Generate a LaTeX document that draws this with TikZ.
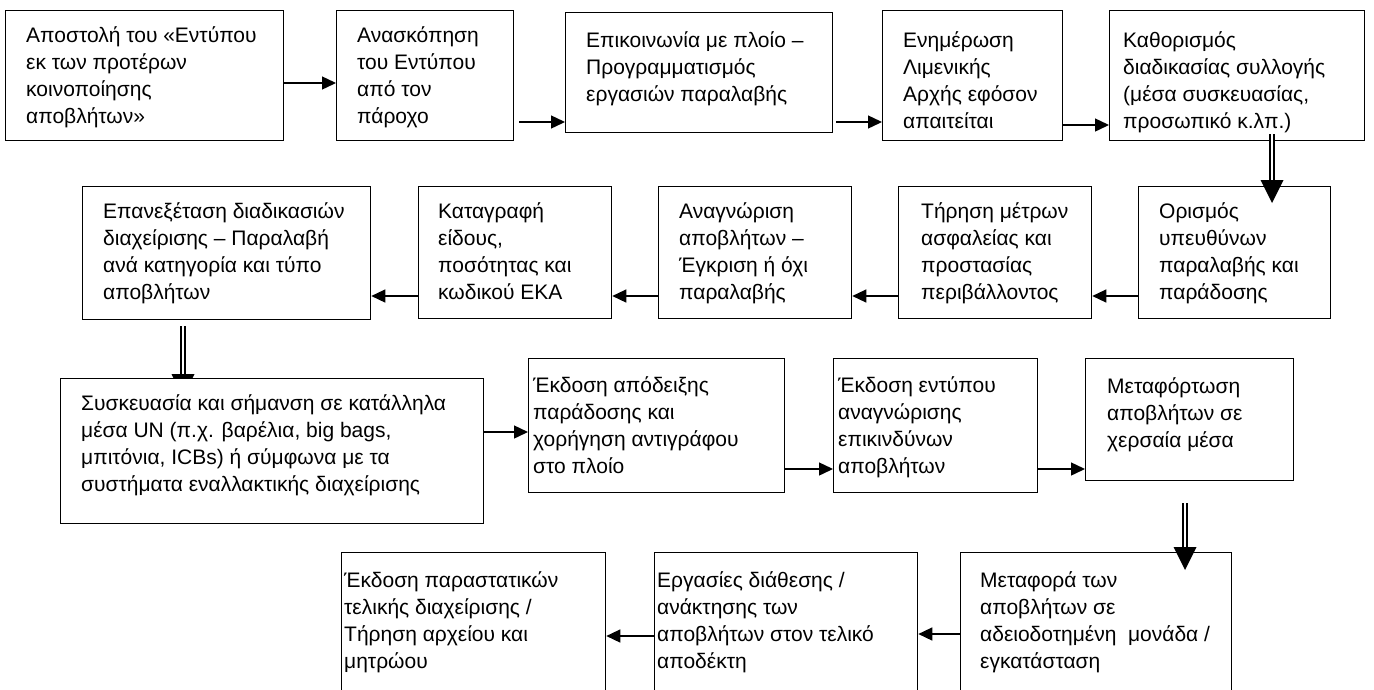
\documentclass[tikz,border=0pt]{standalone}
\usepackage{fontspec}
\setmainfont{Liberation Sans}
\usetikzlibrary{arrows.meta,calc}
\pgfdeclarelayer{bg}
\pgfsetlayers{bg,main}
\newcommand{\mystrut}{\rule{0pt}{16pt}}
\tikzset{
  box/.style={draw, line width=1.3pt, fill=white, anchor=north west, inner sep=0pt},
  txt/.style={anchor=north west, inner sep=0pt, align=left, font=\fontsize{21pt}{27pt}\selectfont},
  arr/.style={-{Triangle[length=14pt,width=13pt]}, line width=1.4pt},
  dbl/.style={draw, line width=2pt, double distance=2.8pt, double=white},
  headfill/.style={fill=black}
}
\begin{document}
\begin{tikzpicture}[x=1pt,y=-1pt]
\useasboundingbox (0,0) rectangle (1374,689);
\clip (0,0) rectangle (1374,689);
% row 1
\node[box, minimum width=278pt, minimum height=130pt] (b1) at (5,10) {};
\node[box, minimum width=177pt, minimum height=130pt] (b2) at (336,10) {};
\node[box, minimum width=267pt, minimum height=120pt] (b3) at (565,12) {};
\node[box, minimum width=180pt, minimum height=130pt] (b4) at (882,10) {};
\node[box, minimum width=255pt, minimum height=130pt] (b5) at (1109,10) {};
% row 2
\node[box, minimum width=192pt, minimum height=132pt] (b6) at (1138,186) {};
\node[box, minimum width=193pt, minimum height=132pt] (b7) at (898,186) {};
\node[box, minimum width=193pt, minimum height=132pt] (b8) at (658,186) {};
\node[box, minimum width=193pt, minimum height=132pt] (b9) at (418,186) {};
\node[box, minimum width=288pt, minimum height=133pt] (b10) at (82,186) {};
% row 3
\node[box, minimum width=423pt, minimum height=145pt] (b11) at (60,378) {};
\node[box, minimum width=256pt, minimum height=134pt] (b12) at (528,358) {};
\node[box, minimum width=204pt, minimum height=134pt] (b13) at (833,358) {};
\node[box, minimum width=208pt, minimum height=122pt] (b14) at (1085,358) {};
% row 4
\node[box, minimum width=271pt, minimum height=160pt] (b15) at (960,552) {};
\node[box, minimum width=263pt, minimum height=160pt] (b16) at (654,552) {};
\node[box, minimum width=264pt, minimum height=160pt] (b17) at (341,552) {};

% texts
\node[txt] (t1) at ($(b1.north west)+(21,16)$) {\mystrut Αποστολή του «Εντύπου\\εκ των προτέρων\\κοινοποίησης\\αποβλήτων»};
\node[txt] (t2) at ($(b2.north west)+(21,16)$) {\mystrut Ανασκόπηση\\του Εντύπου\\από τον\\πάροχο};
\node[txt] (t3) at ($(b3.north west)+(21,19)$) {\mystrut Επικοινωνία με πλοίο –\\Προγραμματισμός\\εργασιών παραλαβής};
\node[txt] (t4) at ($(b4.north west)+(21,21)$) {\mystrut Ενημέρωση\\Λιμενικής\\Αρχής εφόσον\\απαιτείται};
\node[txt] (t5) at ($(b5.north west)+(14,21)$) {\mystrut Καθορισμός\\διαδικασίας συλλογής\\(μέσα συσκευασίας,\\προσωπικό κ.λπ.)};
\node[txt] (t6) at ($(b6.north west)+(21,16)$) {\mystrut Ορισμός\\υπευθύνων\\παραλαβής και\\παράδοσης};
\node[txt] (t7) at ($(b7.north west)+(23,16)$) {\mystrut Τήρηση μέτρων\\ασφαλείας και\\προστασίας\\περιβάλλοντος};
\node[txt] (t8) at ($(b8.north west)+(21,16)$) {\mystrut Αναγνώριση\\αποβλήτων –\\Έγκριση ή όχι\\παραλαβής};
\node[txt] (t9) at ($(b9.north west)+(20,16)$) {\mystrut Καταγραφή\\είδους,\\ποσότητας και\\κωδικού ΕΚΑ};
\node[txt] (t10) at ($(b10.north west)+(21,16)$) {\mystrut Επανεξέταση διαδικασιών\\διαχείρισης – Παραλαβή\\ανά κατηγορία και τύπο\\αποβλήτων};
\node[txt] (t11) at ($(b11.north west)+(21,16)$) {\mystrut Συσκευασία και σήμανση σε κατάλληλα\\μέσα UN (π.χ. βαρέλια, big bags,\\μπιτόνια, ICBs) ή σύμφωνα με τα\\συστήματα εναλλακτικής διαχείρισης};
\node[txt] (t12) at ($(b12.north west)+(5,18)$) {\mystrut Έκδοση απόδειξης\\παράδοσης και\\χορήγηση αντιγράφου\\στο πλοίο};
\node[txt] (t13) at ($(b13.north west)+(5,18)$) {\mystrut Έκδοση εντύπου\\αναγνώρισης\\επικινδύνων\\αποβλήτων};
\node[txt] (t14) at ($(b14.north west)+(22,19)$) {\mystrut Μεταφόρτωση\\αποβλήτων σε\\χερσαία μέσα};
\node[txt] (t15) at ($(b15.north west)+(20,19)$) {\mystrut Μεταφορά των\\αποβλήτων σε\\αδειοδοτημένη\ \ μονάδα /\\εγκατάσταση};
\node[txt] (t16) at ($(b16.north west)+(3,19)$) {\mystrut Εργασίες διάθεσης /\\ανάκτησης των\\αποβλήτων στον τελικό\\αποδέκτη};
\node[txt] (t17) at ($(b17.north west)+(3,19)$) {\mystrut Έκδοση παραστατικών\\τελικής διαχείρισης /\\Τήρηση αρχείου και\\μητρώου};

% single arrows
\draw[arr] (b1.east |- 0,83) -- (b2.west |- 0,83);
\draw[arr] ($(b2.east |- 0,122)+(5,0)$) -- (b3.west |- 0,122);
\draw[arr] ($(b3.east |- 0,122)+(3,0)$) -- (b4.west |- 0,122);
\draw[arr] (b4.east |- 0,125) -- (b5.west |- 0,125);
\draw[arr] (b6.west |- 0,296) -- (b7.east |- 0,296);
\draw[arr] (b7.west |- 0,296) -- (b8.east |- 0,296);
\draw[arr] (b8.west |- 0,296) -- (b9.east |- 0,296);
\draw[arr] (b9.west |- 0,296) -- (b10.east |- 0,296);
\draw[arr] (b11.east |- 0,432) -- (b12.west |- 0,432);
\draw[arr] (b12.east |- 0,469) -- (b13.west |- 0,469);
\draw[arr] (b13.east |- 0,469) -- (b14.west |- 0,469);
\draw[arr] (b15.west |- 0,634) -- (b16.east |- 0,634);
\draw[arr] (b16.west |- 0,636) -- (b17.east |- 0,636);

% double arrows
\coordinate (s56) at ($(b5.south -| 1272,0)+(0,-7)$);
\coordinate (h56) at ($(b6.north -| 1272,0)+(0,-6)$);
\coordinate (p56) at ($(b6.north -| 1272,0)+(0,17)$);
\draw[dbl] (s56) -- (h56);
\fill[headfill] ($(h56)+(-11.5,0)$) -- ($(h56)+(11.5,0)$) -- (p56) -- cycle;

\coordinate (s1011) at ($(b10.south -| 183,0)+(0,6)$);
\coordinate (h1011) at ($(b11.north -| 183,0)+(0,-4)$);
\coordinate (p1011) at ($(b11.north -| 183,0)+(0,19)$);
\begin{pgfonlayer}{bg}
\draw[dbl] (s1011) -- (h1011);
\fill[headfill] ($(h1011)+(-11.5,0)$) -- ($(h1011)+(11.5,0)$) -- (p1011) -- cycle;
\end{pgfonlayer}

\coordinate (s1415) at ($(b14.south -| 1185,0)+(0,22)$);
\coordinate (h1415) at ($(b15.north -| 1185,0)+(0,-5)$);
\coordinate (p1415) at ($(b15.north -| 1185,0)+(0,18)$);
\draw[dbl] (s1415) -- (h1415);
\fill[headfill] ($(h1415)+(-11.5,0)$) -- ($(h1415)+(11.5,0)$) -- (p1415) -- cycle;
\end{tikzpicture}
\end{document}
